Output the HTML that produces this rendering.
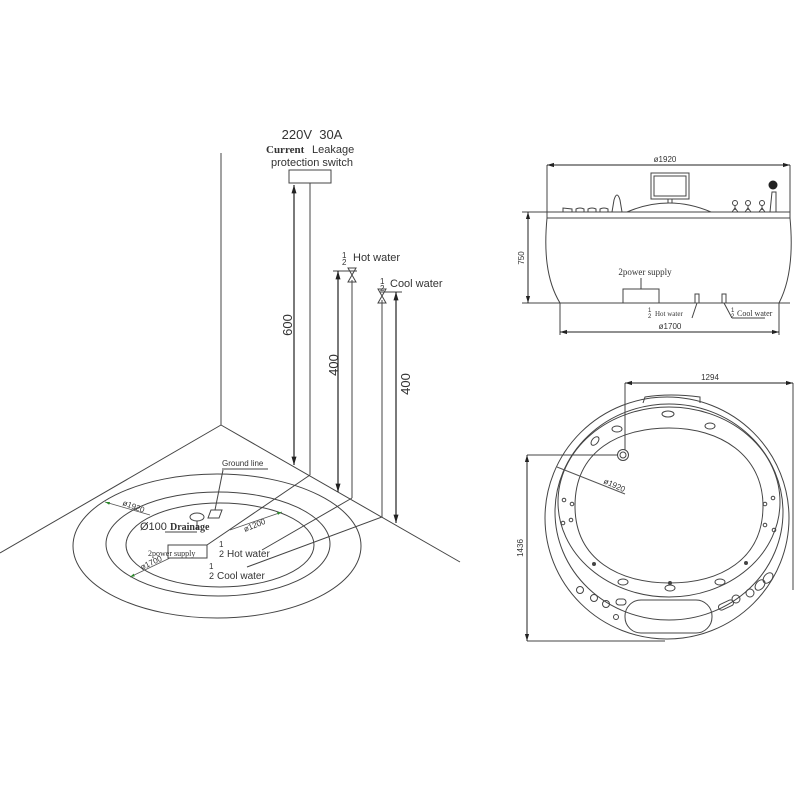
<!DOCTYPE html>
<html><head><meta charset="utf-8"><style>
html,body{margin:0;padding:0;background:#fff;}
svg{display:block}
text{font-family:"Liberation Sans",sans-serif;fill:#333}
.s{font-family:"Liberation Serif",serif}
</style></head><body>
<svg width="800" height="800" viewBox="0 0 800 800" xmlns="http://www.w3.org/2000/svg">
<defs>
<marker id="a" viewBox="0 0 10 10" refX="10" refY="5" markerWidth="7" markerHeight="7" orient="auto-start-reverse"><path d="M0,2 L10,5 L0,8 z" fill="#222"/></marker>
<marker id="g" viewBox="0 0 10 10" refX="10" refY="5" markerWidth="6" markerHeight="6" orient="auto-start-reverse"><path d="M0,2 L10,5 L0,8 z" fill="#2a8a2a"/></marker>
</defs>
<g fill="none" stroke="#444" stroke-width="1">
<line x1="221" y1="153" x2="221" y2="425"/>
<line x1="221" y1="425" x2="0" y2="553"/>
<line x1="221" y1="425" x2="460" y2="562"/>
<ellipse cx="217" cy="546" rx="144" ry="72"/>
<ellipse cx="218" cy="544" rx="112" ry="52"/>
<ellipse cx="220" cy="545" rx="94" ry="42"/>
<rect x="289" y="170" width="42" height="13"/>
<line x1="310" y1="183" x2="310" y2="475"/>
<line x1="352" y1="280" x2="352" y2="498"/>
<line x1="382" y1="300" x2="382" y2="517"/>
<line x1="333" y1="271" x2="357" y2="271"/>
<line x1="380" y1="292" x2="402" y2="292"/>
<path d="M348,268 L356,268 L348,282 L356,282 z"/>
<path d="M378,289 L386,289 L378,303 L386,303 z"/>
<line x1="207" y1="545" x2="310" y2="475"/>
<line x1="262" y1="550" x2="352" y2="498"/>
<line x1="247" y1="567" x2="382" y2="517"/>
<rect x="168" y="545" width="39" height="13"/>
<ellipse cx="197" cy="517" rx="7" ry="4"/>
<line x1="197" y1="521" x2="197" y2="530"/>
<path d="M211,510 L222,510 L219,518 L208,518 z"/>
<line x1="223" y1="470" x2="215" y2="510"/>
<line x1="222" y1="469" x2="268" y2="469"/>
<line x1="165" y1="532" x2="197" y2="532"/>
</g>
<g stroke="#222" stroke-width="1.2">
<line x1="294" y1="185" x2="294" y2="465" marker-start="url(#a)" marker-end="url(#a)"/>
<line x1="338" y1="271" x2="338" y2="492" marker-start="url(#a)" marker-end="url(#a)"/>
<line x1="396" y1="292" x2="396" y2="523" marker-start="url(#a)" marker-end="url(#a)"/>
</g>
<g stroke="#555" stroke-width="0.8">
<line x1="105" y1="502" x2="150" y2="515" marker-start="url(#g)"/>
<line x1="230" y1="530" x2="282" y2="512" marker-end="url(#g)"/>
<line x1="130" y1="577" x2="170" y2="558" marker-start="url(#g)"/>
</g>
<text x="312" y="139" font-size="13" text-anchor="middle">220V&#160;&#160;30A</text>
<text x="266" y="153" font-size="11" class="s" font-weight="bold">Current</text>
<text x="312" y="153" font-size="11">Leakage</text>
<text x="312" y="166" font-size="11" text-anchor="middle">protection switch</text>
<text transform="translate(292,325) rotate(-90)" font-size="13" text-anchor="middle">600</text>
<text transform="translate(338,365) rotate(-90)" font-size="13" text-anchor="middle">400</text>
<text transform="translate(410,384) rotate(-90)" font-size="13" text-anchor="middle">400</text>
<text x="342" y="258" font-size="8" fill="#2a8a2a">1</text><text x="342" y="265" font-size="8" fill="#2a8a2a">2</text>
<text x="353" y="261" font-size="11">Hot water</text>
<text x="380" y="284" font-size="8" fill="#2a8a2a">1</text><text x="380" y="291" font-size="8" fill="#2a8a2a">2</text>
<text x="390" y="287" font-size="11">Cool water</text>
<text x="222" y="466" font-size="8">Ground line</text>
<text x="140" y="530" font-size="11">Ø100 <tspan class="s" font-weight="bold" font-size="10">Drainage</tspan></text>
<text x="148" y="556" font-size="8" class="s">2power supply</text>
<text x="219" y="547" font-size="8">1</text><text x="219" y="557" font-size="9">2</text>
<text x="227" y="557" font-size="10">Hot water</text>
<text x="209" y="569" font-size="8">1</text><text x="209" y="579" font-size="9">2</text>
<text x="217" y="579" font-size="10">Cool water</text>
<text transform="translate(122,505) rotate(20)" font-size="8">ø1920</text>
<text transform="translate(245,532) rotate(-22)" font-size="8">ø1200</text>
<text transform="translate(142,570) rotate(-25)" font-size="8">ø1700</text>

<g fill="none" stroke="#444" stroke-width="1">
<line x1="547" y1="212" x2="790" y2="212"/>
<line x1="547" y1="218" x2="790" y2="218"/>
<line x1="547" y1="165" x2="547" y2="218"/>
<line x1="790" y1="165" x2="790" y2="218"/>
<path d="M547,218 C544,250 546,280 560,303"/>
<path d="M790,218 C793,250 791,280 779,303"/>
<line x1="522" y1="303" x2="790" y2="303"/>
<line x1="522" y1="212" x2="547" y2="212"/>
<line x1="560" y1="303" x2="560" y2="335"/>
<line x1="779" y1="303" x2="779" y2="335"/>
<rect x="651" y="173" width="38" height="26"/>
<rect x="654" y="176" width="32" height="20"/>
<line x1="668" y1="199" x2="668" y2="203"/><line x1="672" y1="199" x2="672" y2="203"/>
<path d="M627,212 Q669,194 711,212"/>
<path d="M563,212 L563,208 L572,209 L572,212 M576,212 L576,209 Q580,207 584,209 L584,212 M588,212 L588,209 Q592,207 596,209 L596,212 M600,212 L600,209 Q604,207 608,209 L608,212"/>
<path d="M612,212 L614,200 Q617,190 620,200 L622,212"/>
<circle cx="735" cy="203" r="2.5"/><path d="M735,206 L735,210 M732,212 L735,208 L738,212"/>
<circle cx="748" cy="203" r="2.5"/><path d="M748,206 L748,210 M745,212 L748,208 L751,212"/>
<circle cx="762" cy="203" r="2.5"/><path d="M762,206 L762,210 M759,212 L762,208 L765,212"/>
<path d="M770,212 L772,192 L776,192 L776,212 z"/>
<rect x="623" y="289" width="36" height="14"/>
<line x1="641" y1="289" x2="641" y2="278"/>
<rect x="695" y="294" width="4" height="9"/>
<rect x="722" y="294" width="4" height="9"/>
<line x1="697" y1="303" x2="692" y2="318"/>
<line x1="724" y1="303" x2="732" y2="318"/>
<line x1="732" y1="318" x2="765" y2="318"/>
</g>
<circle cx="773" cy="185" r="4.5" fill="#222"/>
<g stroke="#222" stroke-width="1">
<line x1="547" y1="165" x2="790" y2="165" marker-start="url(#a)" marker-end="url(#a)"/>
<line x1="528" y1="212" x2="528" y2="303" marker-start="url(#a)" marker-end="url(#a)"/>
<line x1="560" y1="332" x2="779" y2="332" marker-start="url(#a)" marker-end="url(#a)"/>
</g>
<text x="665" y="162" font-size="8" text-anchor="middle">ø1920</text>
<text transform="translate(524,258) rotate(-90)" font-size="8" text-anchor="middle">750</text>
<text x="645" y="275" font-size="9" class="s" text-anchor="middle">2power supply</text>
<text x="670" y="329" font-size="8" text-anchor="middle">ø1700</text>
<text x="648" y="312" font-size="6" fill="#2a8a2a">1</text><text x="648" y="318" font-size="6" fill="#2a8a2a">2</text>
<text x="655" y="316" font-size="7" class="s">Hot water</text>
<text x="731" y="312" font-size="6" fill="#2a8a2a">1</text><text x="731" y="318" font-size="6" fill="#2a8a2a">2</text>
<text x="737" y="316" font-size="8" class="s">Cool water</text>

<g fill="none" stroke="#444" stroke-width="1">
<ellipse cx="667" cy="518" rx="122" ry="121"/>
<ellipse cx="669" cy="512" rx="114" ry="108"/>
<ellipse cx="669" cy="502" rx="111" ry="95"/>
<path d="M575,506 C575,450 620,428 669,428 C720,428 763,455 763,506 C763,560 720,583 669,583 C620,583 575,560 575,506 z"/>
<path d="M643,403 L645,397 Q670,393 700,397 L700,403"/>
<rect x="625" y="600" width="87" height="33" rx="16"/>
<circle cx="623" cy="455" r="5.5"/><circle cx="623" cy="455" r="3"/>
<line x1="625" y1="383" x2="625" y2="450"/>
<line x1="793" y1="383" x2="793" y2="590"/>
<line x1="527" y1="455" x2="617" y2="455"/>
<line x1="527" y1="641" x2="665" y2="641"/>
<ellipse cx="668" cy="414" rx="6" ry="3"/>
<ellipse cx="710" cy="426" rx="5" ry="3"/>
<ellipse cx="617" cy="429" rx="5" ry="3"/>
<ellipse cx="595" cy="441" rx="3" ry="5" transform="rotate(40 595 441)"/>
<ellipse cx="623" cy="582" rx="5" ry="3"/>
<ellipse cx="670" cy="588" rx="5" ry="3"/>
<ellipse cx="720" cy="582" rx="5" ry="3"/>
<circle cx="564" cy="500" r="1.8"/><circle cx="572" cy="504" r="1.8"/>
<circle cx="563" cy="523" r="1.8"/><circle cx="571" cy="520" r="1.8"/>
<circle cx="773" cy="498" r="1.8"/><circle cx="765" cy="504" r="1.8"/>
<circle cx="774" cy="530" r="1.8"/><circle cx="765" cy="525" r="1.8"/>
<circle cx="580" cy="590" r="3.5"/><circle cx="594" cy="598" r="3.5"/><circle cx="606" cy="604" r="3.5"/>
<rect x="616" y="599" width="10" height="6" rx="3"/>
<circle cx="616" cy="617" r="2.5"/>
<rect x="718" y="602" width="16" height="6" rx="3" transform="rotate(-25 726 605)"/>
<circle cx="736" cy="599" r="4"/><circle cx="750" cy="593" r="4"/>
<ellipse cx="760" cy="585" rx="4" ry="6" transform="rotate(40 760 585)"/>
<ellipse cx="768" cy="578" rx="4" ry="6" transform="rotate(40 768 578)"/>
</g>
<g fill="#444"><circle cx="594" cy="564" r="2"/><circle cx="746" cy="563" r="2"/><circle cx="670" cy="583" r="2"/></g>
<g stroke="#222" stroke-width="1">
<line x1="625" y1="383" x2="793" y2="383" marker-start="url(#a)" marker-end="url(#a)"/>
<line x1="527" y1="455" x2="527" y2="641" marker-start="url(#a)" marker-end="url(#a)"/>
<line x1="557" y1="467" x2="625" y2="494" stroke="#555"/>
</g>
<text x="710" y="380" font-size="8" text-anchor="middle">1294</text>
<text transform="translate(523,548) rotate(-90)" font-size="8" text-anchor="middle">1436</text>
<text transform="translate(603,483) rotate(24)" font-size="8" fill="#2a6a2a">ø1920</text>
</svg>
</body></html>
